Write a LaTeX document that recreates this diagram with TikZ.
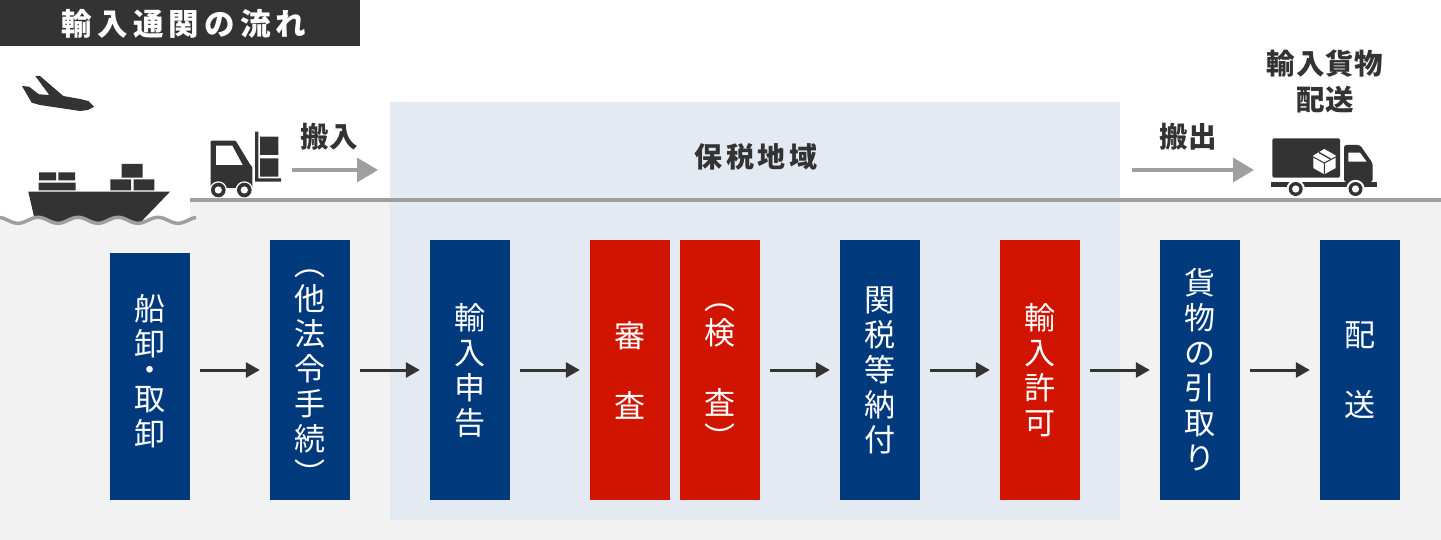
\documentclass[tikz,border=0pt]{standalone}
\usepackage{fontspec}
\setmainfont{Noto Sans CJK JP}
\usetikzlibrary{arrows.meta}
\definecolor{ink}{HTML}{333333}
\definecolor{navy}{HTML}{003A7D}
\definecolor{crimson}{HTML}{D01400}
\definecolor{paleblue}{HTML}{E3EAF1}
\definecolor{palegray}{HTML}{F2F2F2}
\definecolor{midgray}{HTML}{9F9F9F}
\tikzset{
  stepbox/.style={minimum width=80pt,inner sep=0pt,draw=none},
  navybox/.style={stepbox,fill=navy},
  redbox/.style={stepbox,fill=crimson},
  vtext/.style={text=white,inner sep=0pt,align=center,font=\fontsize{31}{35}\selectfont},
  head/.style={text=ink,inner sep=0pt,align=center,font=\fontsize{28.5}{36}\selectfont\bfseries\addfontfeature{LetterSpace=3}},
  flow/.style={draw=ink,line width=3pt,-{Triangle[length=14pt,width=15pt]},shorten <=10pt,shorten >=10pt},
  graybar/.style={draw=midgray,line width=3.5pt,-{Triangle[length=21pt,width=24pt]}},
}
\begin{document}
\begin{tikzpicture}[x=1pt,y=-1pt]
\useasboundingbox (0,0) rectangle (1441,540);
% backgrounds
\fill[palegray] (0,200) rectangle (1441,540);
\fill[white] (0,198) rectangle (190,226);
\fill[paleblue] (390,102) rectangle (1120,520);
% title
\node[fill=ink,minimum width=360pt,minimum height=46pt,inner sep=0pt,anchor=north west] (title) at (0,0) {};
\node[text=white,inner sep=0pt,font=\fontsize{30.5}{34}\selectfont\bfseries\addfontfeature{LetterSpace=17}] (titletext) at (184,24) {輸入通関の流れ};
% plane
\fill[ink] (22,86) -- (29,86.7) -- (39,94.3) -- (49.3,95) -- (35.3,76) -- (40,76) -- (63.3,96) -- (80,99) -- (88.3,101) -- (94,106.7) -- (88,110) -- (80,111) -- (40,105) -- (31.7,102.7) -- cycle;
% ship
\fill[ink] (28.3,191.7) -- (170,191.7) -- (138,225) -- (36,225) -- cycle;
\fill[ink] (39,172.3) rectangle (56,180.3) (58.3,172.3) rectangle (75,180.3) (38.7,182.7) rectangle (75.7,190.3);
\fill[ink] (121.7,164) rectangle (142.7,177.7) (110.3,179.3) rectangle (131,190.3) (133.7,179.3) rectangle (154.3,190.3);
\fill[palegray] plot[domain=0:196,samples=120,smooth] ({\x},{220.3+3*cos(9*(\x-18))}) -- (196,230) -- (0,230) -- cycle;
\draw[midgray,line width=3.5pt] plot[domain=0:196,samples=120,smooth] ({\x},{220.3+3*cos(9*(\x-18))});
% forklift
\fill[ink,rounded corners=1pt] (210.7,140.7) -- (235.7,140.7) -- (250,164.3) -- (252.3,167) -- (252.3,188) -- (210.7,188) -- cycle;
\fill[white] (216,145.7) -- (232.3,145.7) -- (242.7,165) -- (216,165) -- cycle;
\fill[ink] (255,131.7) rectangle (258.3,181.7) (255,178.3) rectangle (281,181.7);
\fill[ink] (260,136.7) rectangle (278.3,155) (260,158.3) rectangle (278.3,176.7);
\foreach \wx in {218.3,244.3}{
  \fill[white] (\wx,190) circle[radius=8.7pt];
  \fill[ink] (\wx,190) circle[radius=7.3pt];
  \fill[white] (\wx,190) circle[radius=3.6pt];
}
% truck
\fill[ink,rounded corners=2pt] (1272.3,138.3) rectangle (1340,177.7);
\fill[ink,rounded corners=2.5pt] (1344,145) -- (1360,145) -- (1372.7,163.3) -- (1372.7,182) -- (1344,182) -- cycle;
\fill[white] (1348.3,152.7) -- (1360,152.7) -- (1366.7,161.7) -- (1348.3,161.7) -- cycle;
\fill[ink] (1271,181.7) rectangle (1376.7,187.3);
\fill[white] (1324.3,149) -- (1335.7,155.5) -- (1335.7,168) -- (1324.3,174.3) -- (1313.3,168) -- (1313.3,155.5) -- cycle;
\draw[ink,line width=1pt] (1313.3,157) -- (1324.3,163) -- (1335.7,157) (1324.3,163) -- (1324.3,174.3);
\draw[ink,line width=1.3pt] (1319,152.5) -- (1330.5,159);
\foreach \wx in {1295.7,1355.5}{
  \fill[white] (\wx,189) circle[radius=9.2pt];
  \fill[ink] (\wx,189) circle[radius=7pt];
  \fill[white] (\wx,189) circle[radius=3.6pt];
}
\draw[midgray,line width=4pt] (190,200) -- (1441,200);
% headings
\node[head] (inlabel) at (329,137) {搬入};
\node[head] (outlabel) at (1188,137) {搬出};
\node[head,font=\fontsize{28}{36}\selectfont\bfseries\addfontfeature{LetterSpace=12}] (bond) at (756,157) {保税地域};
\node[head] (delivery) at (1325,81) {輸入貨物\\配送};
% gray arrows
\coordinate (ina) at (292,170);
\coordinate (inb) at (378,170);
\coordinate (outa) at (1132,170);
\coordinate (outb) at (1254,170);
\draw[graybar] (ina) -- (inb);
\draw[graybar] (outa) -- (outb);
% step boxes
\node[navybox,minimum height=247pt] (s1) at (150,376.5) {};
\node[navybox,minimum height=260pt] (s2) at (310,370) {};
\node[navybox,minimum height=260pt] (s3) at (470,370) {};
\node[redbox,minimum height=260pt] (s4) at (630,370) {};
\node[redbox,minimum height=260pt] (s5) at (720,370) {};
\node[navybox,minimum height=260pt] (s6) at (880,370) {};
\node[redbox,minimum height=260pt] (s7) at (1040,370) {};
\node[navybox,minimum height=260pt] (s8) at (1200,370) {};
\node[navybox,minimum height=260pt] (s9) at (1360,370) {};
% step texts
\node[vtext] (t1) at (150,371) {船\\卸\\[-9pt]・\\[-6pt]取\\卸};
\node[vtext] (t2) at (310,378) {︵\\他\\法\\令\\手\\続\\︶};
\node[vtext] (t3) at (470,370) {輸\\入\\申\\告};
\node[vtext] (t4) at (630,370) {審\\[35pt]査};
\node[vtext] (t5) at (720,377) {︵\\検\\[35pt]査\\︶};
\node[vtext] (t6) at (880,370) {関\\税\\等\\納\\付};
\node[vtext] (t7) at (1040,370) {輸\\入\\許\\可};
\node[vtext] (t8) at (1200,370) {貨\\物\\の\\引\\取\\り};
\node[vtext] (t9) at (1360,370) {配\\[35pt]送};
% connectors
\draw[flow] (s1.east |- s2.west) -- (s2.west);
\draw[flow] (s2.east) -- (s3.west);
\draw[flow] (s3.east) -- (s4.west);
\draw[flow] (s5.east) -- (s6.west);
\draw[flow] (s6.east) -- (s7.west);
\draw[flow] (s7.east) -- (s8.west);
\draw[flow] (s8.east) -- (s9.west);
\end{tikzpicture}
\end{document}
